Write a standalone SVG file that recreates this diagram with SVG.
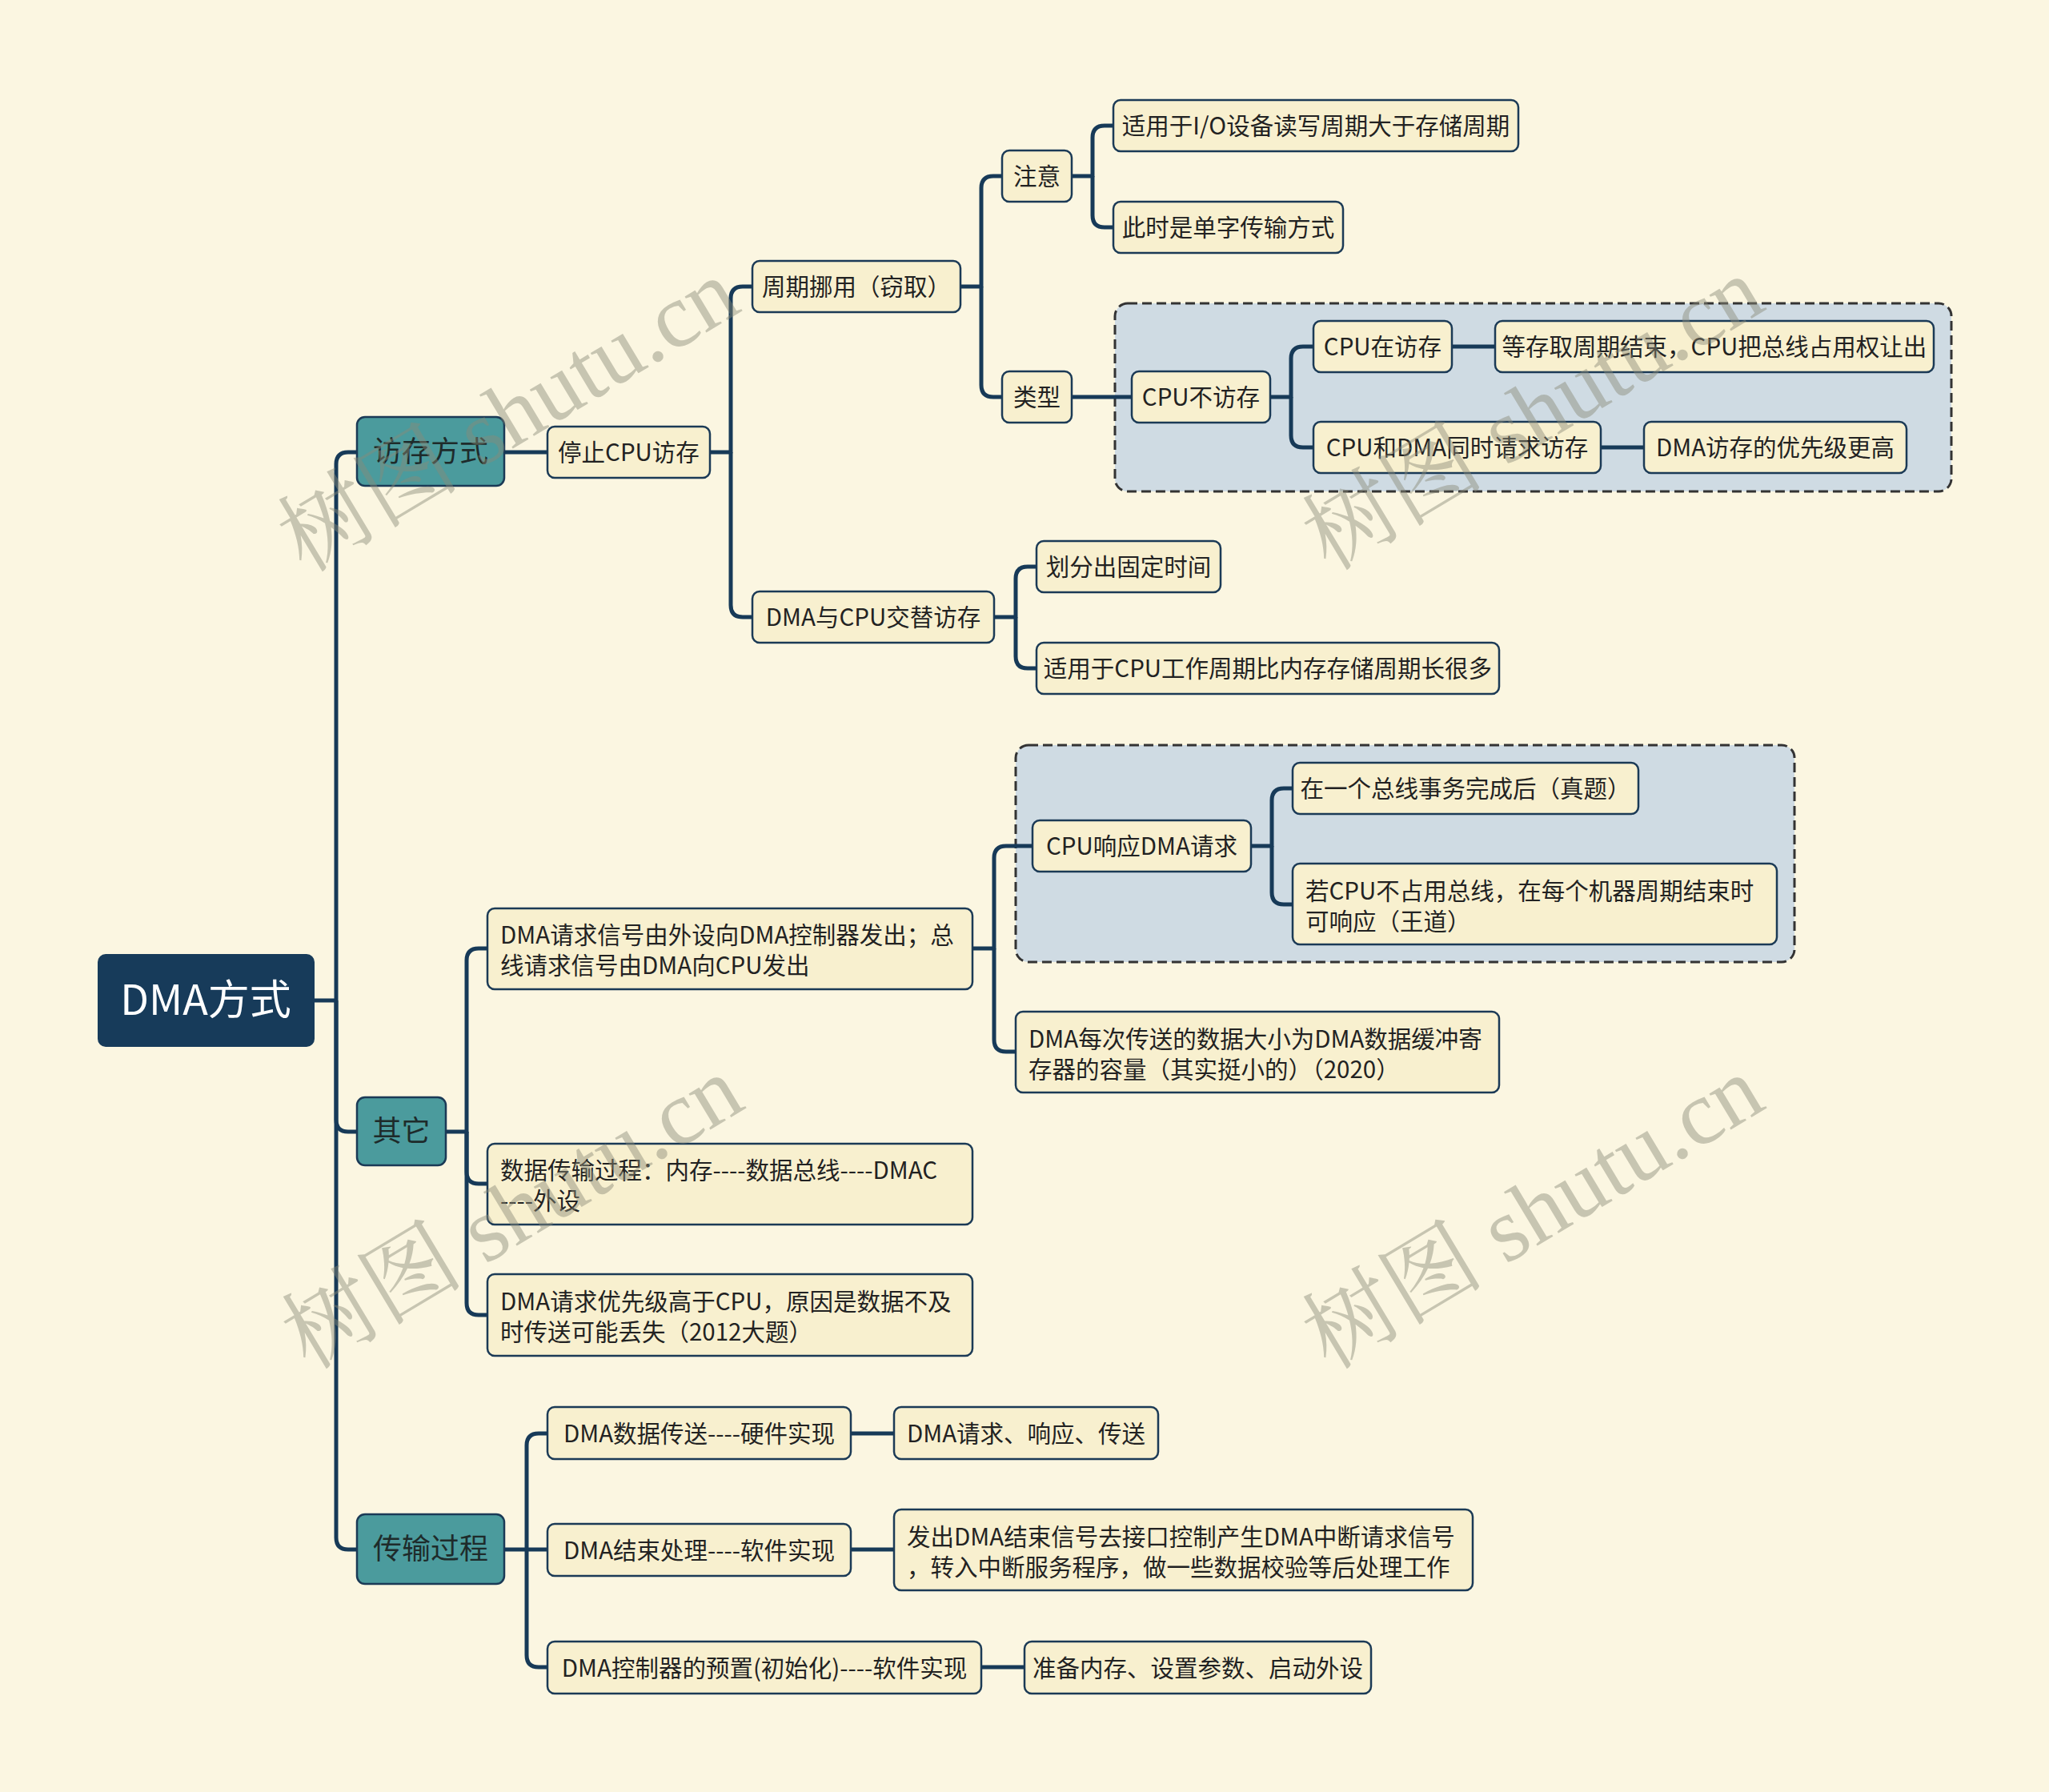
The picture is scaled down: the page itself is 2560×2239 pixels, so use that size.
<svg xmlns="http://www.w3.org/2000/svg" width="2560" height="2239" viewBox="0 0 2560 2239">
<style>
.bg{fill:#fbf6e1}
.n rect{fill:#f8f0cf;stroke:#1b3a56;stroke-width:2.5}
.l1 rect{fill:#4b9b9d;stroke:#1b3a56;stroke-width:2.5}
.root rect{fill:#173b5a}
text{font-family:"Noto Sans CJK SC","Microsoft YaHei","Noto Sans",sans-serif}
.n text{font-size:29.5px;fill:#222}
.l1 text{font-size:36px;fill:#1e2b2b;text-anchor:middle}
.root text{font-size:52px;fill:#ffffff;text-anchor:middle}
.c{text-anchor:middle}
.conn path{fill:none;stroke:#173a58;stroke-width:5;stroke-linejoin:round}
.dash{fill:#cfdbe3;stroke:#333;stroke-width:3;stroke-dasharray:12 6}
.wm{font-family:"Liberation Serif","Noto Serif CJK SC",serif;font-size:114px;fill:#8a8a78;opacity:0.45;text-anchor:middle}
</style>
<rect class="bg" x="0" y="0" width="2560" height="2239"/>

<rect class="dash" x="1393" y="379" width="1045" height="235" rx="16"/>
<rect class="dash" x="1269" y="931" width="973" height="271" rx="16"/>

<g class="conn">
<path d="M393,1250 H420"/>
<path d="M420,1250 V580 Q420,565 435,565 H446"/>
<path d="M420,1250 V1399 Q420,1414 435,1414 H446"/>
<path d="M420,1250 V1921 Q420,1936 435,1936 H446"/>
<path d="M630,565 H684"/>
<path d="M887,565 H913 V373 Q913,358 928,358 H940"/>
<path d="M913,565 V756 Q913,771 928,771 H940"/>
<path d="M1200,358 H1226 V235 Q1226,220 1241,220 H1252"/>
<path d="M1226,358 V481 Q1226,496 1241,496 H1252"/>
<path d="M1339,220 H1365 V172 Q1365,157 1380,157 H1391"/>
<path d="M1365,220 V269 Q1365,284 1380,284 H1391"/>
<path d="M1339,496 H1414"/>
<path d="M1587,496 H1613 V448 Q1613,433 1628,433 H1641"/>
<path d="M1613,496 V544 Q1613,559 1628,559 H1641"/>
<path d="M1814,433 H1868"/>
<path d="M2000,559 H2054"/>
<path d="M1242,771 H1269 V723 Q1269,708 1284,708 H1295"/>
<path d="M1269,771 V820 Q1269,835 1284,835 H1295"/>
<path d="M557,1414 H583 V1200 Q583,1185 598,1185 H609"/>
<path d="M583,1414 V1464 Q583,1479 598,1479 H609"/>
<path d="M583,1414 V1628 Q583,1643 598,1643 H609"/>
<path d="M1215,1185 H1242 V1072 Q1242,1057 1257,1057 H1290"/>
<path d="M1242,1185 V1299 Q1242,1314 1257,1314 H1269"/>
<path d="M1563,1057 H1589 V1000 Q1589,985 1604,985 H1615"/>
<path d="M1589,1057 V1115 Q1589,1130 1604,1130 H1615"/>
<path d="M630,1936 H658 V1806 Q658,1791 673,1791 H684"/>
<path d="M658,1936 H684"/>
<path d="M658,1936 V2068 Q658,2083 673,2083 H684"/>
<path d="M1063,1791 H1117"/>
<path d="M1063,1936 H1117"/>
<path d="M1226,2083 H1280"/>
</g>

<g id="root" class="root"><rect x="122" y="1192" width="271" height="116" rx="10"/><text x="257" y="1268">DMA方式</text></g>

<g id="n-fangcun" class="l1"><rect x="446" y="521" width="184" height="86" rx="10"/><text x="538" y="577">访存方式</text></g>
<g id="n-qita" class="l1"><rect x="446" y="1371" width="111" height="85" rx="10"/><text x="501.5" y="1426">其它</text></g>
<g id="n-chuanshu" class="l1"><rect x="446" y="1892" width="184" height="87" rx="10"/><text x="538" y="1948">传输过程</text></g>

<g id="n-tingzhi" class="n"><rect x="684" y="533" width="203" height="64" rx="9"/><text class="c" x="785.5" y="576">停止CPU访存</text></g>
<g id="n-zhouqi" class="n"><rect x="940" y="326" width="260" height="64" rx="9"/><text class="c" x="1070" y="369">周期挪用（窃取）</text></g>
<g id="n-jiaoti" class="n"><rect x="940" y="739" width="302" height="64" rx="9"/><text class="c" x="1091" y="782">DMA与CPU交替访存</text></g>
<g id="n-zhuyi" class="n"><rect x="1252" y="188" width="87" height="64" rx="9"/><text class="c" x="1295.5" y="231">注意</text></g>
<g id="n-leixing" class="n"><rect x="1252" y="464" width="87" height="64" rx="9"/><text class="c" x="1295.5" y="507">类型</text></g>
<g id="n-shiyong1" class="n"><rect x="1391" y="125" width="506" height="64" rx="9"/><text class="c" x="1644" y="168">适用于I/O设备读写周期大于存储周期</text></g>
<g id="n-danzi" class="n"><rect x="1391" y="252" width="287" height="64" rx="9"/><text class="c" x="1534.5" y="295">此时是单字传输方式</text></g>
<g id="n-bufangcun" class="n"><rect x="1414" y="464" width="173" height="64" rx="9"/><text class="c" x="1500.5" y="507">CPU不访存</text></g>
<g id="n-zaifangcun" class="n"><rect x="1641" y="401" width="173" height="64" rx="9"/><text class="c" x="1727.5" y="444">CPU在访存</text></g>
<g id="n-deng" class="n"><rect x="1868" y="401" width="548" height="64" rx="9"/><text class="c" x="2142" y="444">等存取周期结束，CPU把总线占用权让出</text></g>
<g id="n-tongshi" class="n"><rect x="1641" y="527" width="359" height="64" rx="9"/><text class="c" x="1820.5" y="570">CPU和DMA同时请求访存</text></g>
<g id="n-youxian" class="n"><rect x="2054" y="527" width="328" height="64" rx="9"/><text class="c" x="2218" y="570">DMA访存的优先级更高</text></g>
<g id="n-huafen" class="n"><rect x="1295" y="676" width="230" height="64" rx="9"/><text class="c" x="1410" y="719">划分出固定时间</text></g>
<g id="n-shiyong2" class="n"><rect x="1295" y="803" width="578" height="64" rx="9"/><text class="c" x="1584" y="846">适用于CPU工作周期比内存存储周期长很多</text></g>

<g id="n-qingqiu" class="n"><rect x="609" y="1135" width="606" height="101" rx="9"/><text x="625" y="1179">DMA请求信号由外设向DMA控制器发出；总</text><text x="625" y="1217">线请求信号由DMA向CPU发出</text></g>
<g id="n-shuju" class="n"><rect x="609" y="1429" width="606" height="101" rx="9"/><text x="625" y="1473">数据传输过程：内存----数据总线----DMAC</text><text x="625" y="1511">----外设</text></g>
<g id="n-youxianji" class="n"><rect x="609" y="1592" width="606" height="102" rx="9"/><text x="625" y="1637">DMA请求优先级高于CPU，原因是数据不及</text><text x="625" y="1675">时传送可能丢失（2012大题）</text></g>
<g id="n-xiangying" class="n"><rect x="1290" y="1025" width="273" height="64" rx="9"/><text class="c" x="1426.5" y="1068">CPU响应DMA请求</text></g>
<g id="n-zongxian" class="n"><rect x="1615" y="953" width="432" height="64" rx="9"/><text class="c" x="1831" y="996">在一个总线事务完成后（真题）</text></g>
<g id="n-buzhanyong" class="n"><rect x="1615" y="1079" width="605" height="101" rx="9"/><text x="1631" y="1124">若CPU不占用总线，在每个机器周期结束时</text><text x="1631" y="1162">可响应（王道）</text></g>
<g id="n-meici" class="n"><rect x="1269" y="1264" width="604" height="101" rx="9"/><text x="1285" y="1309">DMA每次传送的数据大小为DMA数据缓冲寄</text><text x="1285" y="1347">存器的容量（其实挺小的）（2020）</text></g>

<g id="n-yingjian" class="n"><rect x="684" y="1758" width="379" height="65" rx="9"/><text class="c" x="873.5" y="1802">DMA数据传送----硬件实现</text></g>
<g id="n-jieshu" class="n"><rect x="684" y="1904" width="379" height="65" rx="9"/><text class="c" x="873.5" y="1948">DMA结束处理----软件实现</text></g>
<g id="n-yuzhi" class="n"><rect x="684" y="2051" width="542" height="65" rx="9"/><text class="c" x="955" y="2095">DMA控制器的预置(初始化)----软件实现</text></g>
<g id="n-qqxy" class="n"><rect x="1117" y="1758" width="330" height="65" rx="9"/><text class="c" x="1282" y="1802">DMA请求、响应、传送</text></g>
<g id="n-fachu" class="n"><rect x="1117" y="1886" width="723" height="101" rx="9"/><text x="1133" y="1931">发出DMA结束信号去接口控制产生DMA中断请求信号</text><text x="1133" y="1969">，转入中断服务程序，做一些数据校验等后处理工作</text></g>
<g id="n-zhunbei" class="n"><rect x="1280" y="2051" width="433" height="65" rx="9"/><text class="c" x="1496.5" y="2095">准备内存、设置参数、启动外设</text></g>

<g id="watermarks">
<text class="wm" transform="translate(655,552) rotate(-31)">树图 shutu.cn</text>
<text class="wm" transform="translate(1935,550) rotate(-31)">树图 shutu.cn</text>
<text class="wm" transform="translate(660,1548) rotate(-31)">树图 shutu.cn</text>
<text class="wm" transform="translate(1935,1548) rotate(-31)">树图 shutu.cn</text>
</g>
</svg>
